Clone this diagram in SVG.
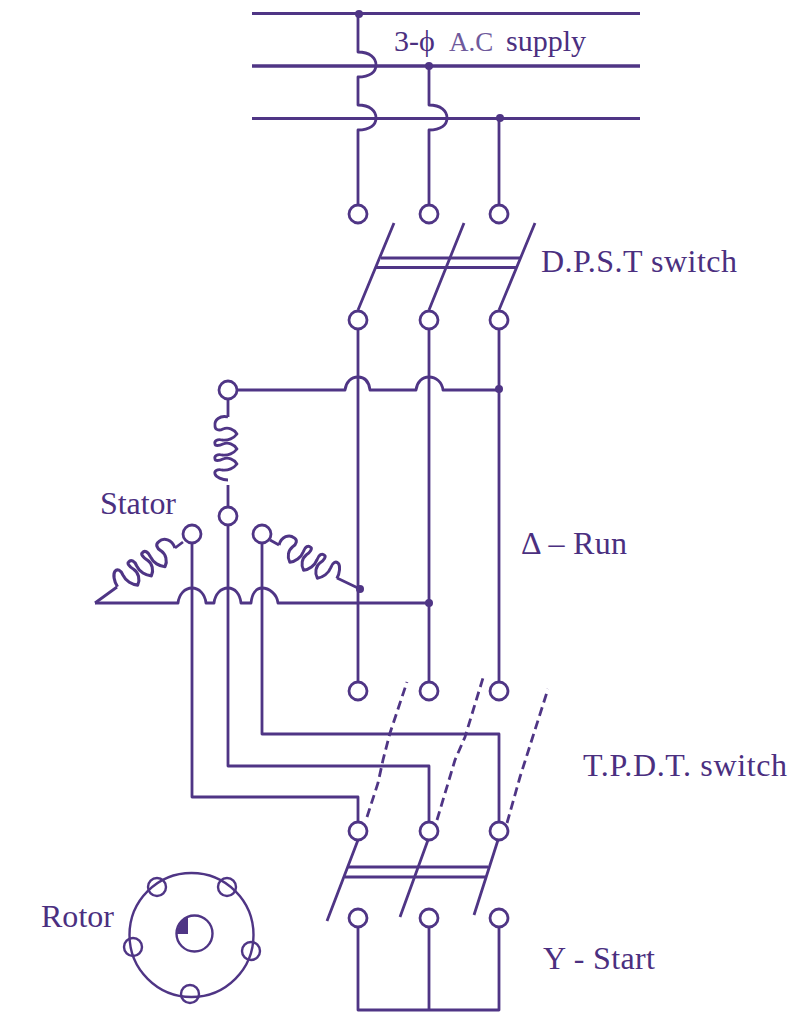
<svg xmlns="http://www.w3.org/2000/svg" xmlns:xlink="http://www.w3.org/1999/xlink" width="800" height="1024" viewBox="0 0 800 1024">
<style>
.w{fill:none;stroke:#4f3585;stroke-width:2.8;stroke-linejoin:round}
.b{stroke-width:3.6}
.d{fill:none;stroke:#4f3585;stroke-width:2.8;stroke-dasharray:9 5}
.t{fill:#fff;stroke:#4f3585;stroke-width:2.8}
.o{fill:none;stroke:#4f3585;stroke-width:2.4}
.j{fill:#4f3585}
text{font-family:"Liberation Serif","Times New Roman",serif;font-size:32px;fill:#4b2f80}
</style>
<defs>
<path id="coil" class="w" d="M0,0 C-8,-2 -14,3 -13,9 C-13,13 -9,14 -5,12 C0,10 6,12 9,17 C6,21 0,24 -6,23 C-11,22 -14,24 -13,27 C-13,29 -9,29 -5,27 C0,25 6,27 9,32 C6,36 0,39 -6,38 C-11,37 -14,39 -13,42 C-13,44 -9,44 -5,42 C0,40 6,42 9,47 C6,51 0,54 -6,53 C-11,52 -14,54 -13,57 C-12,60 -6,63 0,63"/>
<circle id="term" class="t" r="9"/>
<circle id="dot" class="j" r="4"/>
</defs>
<rect width="800" height="1024" fill="#fff"/>
<g id="connectors">
<path class="w" d="M252,13.500H640M252,118.500H640"/>
<path class="w b" d="M252,66H640"/>
<path class="w" d="M358,14V52C370,52 376,58 376,65C376,72 370,77 358,77V105C370,105 376,111 376,118C376,125 370,130 358,130V206"/>
<path class="w" d="M429,66V105C441,105 447,111 447,118C447,125 441,130 429,130V206"/>
<path class="w" d="M499,118V206"/>
<path class="w" d="M358,310L394,223M429,310L464,223M499,310L535,223"/>
<path class="w" d="M381,258H521M376,267.500H516"/>
<path class="w" d="M358,329V682M429,329V682M499,329V682"/>
<path class="w" d="M237,390H345C346,382 351,377 358,377C365,377 369,382 370,390H416C417,382 422,377 429,377C436,377 442,382 443,390H499"/>
<path class="w" d="M228,399V417M228,485V507"/>
<path class="w" d="M95,603H178C179,594 185,588 192,588C199,588 205,594 206,603H214C215,594 221,588 228,588C235,588 240,594 241,603H251C252,594 256,588 262,588C269,588 277,594 278,603H429"/>
<path class="w" d="M95,603L117,587M175,548L183,542M270,540L279,545M337,578L360,589"/>
<path class="w" d="M192,543V797H358V822M228,525V766H429V822M262,543V734H499V822"/>
<path class="d" d="M367,817L378,783L383,760L390,733L407,682M437,820L455,760L465,737L483,678M507,823L520,777L548,689"/>
<path class="w" d="M358,840L327,921M428,840L400,917M498,840L474,915"/>
<path class="w" d="M347,867H488M345,877H486"/>
<path class="w" d="M358,927V1010H499V927M429,927V1010"/>
</g>
<g id="coil-top"><use xlink:href="#coil" href="#coil" transform="translate(228,417)"/></g>
<g id="coil-left"><use xlink:href="#coil" href="#coil" transform="translate(175,548) rotate(56) scale(1.1)"/></g>
<g id="coil-right"><use xlink:href="#coil" href="#coil" transform="translate(279,545) rotate(-60) scale(-1.06,1.06)"/></g>
<g id="junctions">
<use href="#dot" x="359" y="14"/><use href="#dot" x="429" y="66"/><use href="#dot" x="500" y="118"/>
<use href="#dot" x="499" y="389"/><use href="#dot" x="360" y="589"/><use href="#dot" x="429" y="603"/>
</g>
<g id="terminals-supply"><use href="#term" x="358" y="214"/><use href="#term" x="429" y="214"/><use href="#term" x="499" y="214"/></g>
<g id="terminals-dpst"><use href="#term" x="358" y="320"/><use href="#term" x="429" y="320"/><use href="#term" x="499" y="320"/></g>
<g id="terminals-run"><use href="#term" x="358" y="691"/><use href="#term" x="429" y="691"/><use href="#term" x="499" y="691"/></g>
<g id="terminals-tpdt"><use href="#term" x="358" y="831"/><use href="#term" x="429" y="831"/><use href="#term" x="499" y="831"/></g>
<g id="terminals-start"><use href="#term" x="358" y="918"/><use href="#term" x="429" y="918"/><use href="#term" x="499" y="918"/></g>
<g id="terminals-stator"><use href="#term" x="228" y="390"/><use href="#term" x="228" y="516"/><use href="#term" x="192" y="534"/><use href="#term" x="262" y="534"/></g>
<g id="rotor">
<circle class="o" cx="191.500" cy="935" r="62"/>
<circle class="o" cx="194.500" cy="933.500" r="18"/>
<path class="j" d="M188,934H177A18,18 0 0 1 188,917Z"/>
<circle class="o" cx="157" cy="887" r="9"/><circle class="o" cx="227" cy="887" r="9"/>
<circle class="o" cx="133" cy="947" r="9"/><circle class="o" cx="251" cy="951" r="9"/>
<circle class="o" cx="190" cy="994" r="9"/>
</g>
<g id="labels">
<text x="394" y="51" style="font-size:30px">3-ϕ</text><text x="449" y="51" style="font-size:27px;fill:#6f5a9c">A.C</text><text x="506" y="51" style="font-size:30px">supply</text>
<text x="541" y="272" textLength="196">D.P.S.T switch</text>
<text x="521" y="554" textLength="106">Δ – Run</text>
<text x="583" y="776" textLength="204">T.P.D.T. switch</text>
<text x="543" y="969" textLength="112">Y - Start</text>
<text x="100" y="514" textLength="76">Stator</text>
<text x="41" y="927" textLength="73">Rotor</text>
</g>
</svg>
